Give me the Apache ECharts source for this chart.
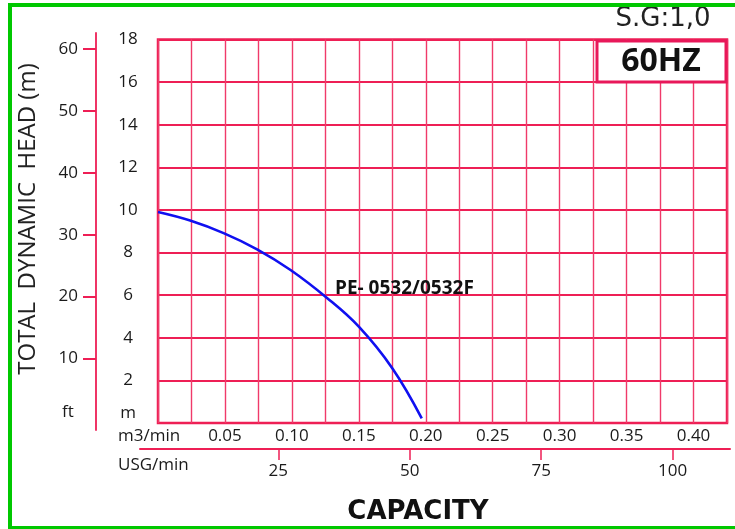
<!DOCTYPE html>
<html>
<head>
<meta charset="utf-8">
<script src="https://cdn.jsdelivr.net/npm/echarts@6/dist/echarts.min.js"></script>
<style>html,body{margin:0;padding:0;background:#fff;}#c{width:735px;height:529px;}</style>
</head>
<body>
<div id="c"></div>
<script>
// ---- data ----
var flowM3 = [0, 0.024, 0.049, 0.074, 0.099, 0.126, 0.150, 0.175, 0.197];
var headM  = [9.9, 9.5, 8.91, 8.15, 7.18, 5.88, 4.52, 2.57, 0.22];
var headTicksM = [2, 4, 6, 8, 10, 12, 14, 16, 18];
var headTicksFt = [10, 20, 30, 40, 50, 60];
var flowTicksM3 = [0.05, 0.10, 0.15, 0.20, 0.25, 0.30, 0.35, 0.40];
var flowTicksUsg = [25, 50, 75, 100];
var curveName = 'PE- 0532/0532F';

var red = '#ee1f55';
var txt = '#1a1a1a';
var font = 'Open Sans';

var chart = echarts.init(document.getElementById('c'), null, {renderer: 'canvas'});
var pts = flowM3.map(function (q, i) { return [q, headM[i]]; });

chart.setOption({
  backgroundColor: '#fff',
  animation: false,
  grid: [
    {left: 158, right: 8, top: 39.5, bottom: 106, show: true, borderColor: red, borderWidth: 2.5, backgroundColor: 'transparent'},
    {left: 96, width: 1, top: 33, height: 397, show: false},
    {left: 140, right: 5, top: 400, bottom: 80, show: false}
  ],
  xAxis: [
    {
      gridIndex: 0, type: 'value', min: 0, max: 0.425, interval: 0.025,
      axisLine: {show: false}, axisTick: {show: false},
      splitLine: {show: true, lineStyle: {color: '#f03a6a', width: 1.4}},
      axisLabel: {
        customValues: flowTicksM3, margin: 5,
        color: txt, fontFamily: font, fontSize: 17,
        formatter: function (v) { return v.toFixed(2); }
      }
    },
    {gridIndex: 1, type: 'value', show: false},
    {
      gridIndex: 2, type: 'value', min: -1.31, max: 110.9, position: 'bottom',
      axisLine: {show: true, onZero: false, lineStyle: {color: red, width: 2}},
      axisTick: {show: true, customValues: flowTicksUsg, length: 11, lineStyle: {color: red, width: 1.5}},
      splitLine: {show: false},
      axisLabel: {customValues: flowTicksUsg, margin: 14, color: txt, fontFamily: font, fontSize: 17}
    }
  ],
  yAxis: [
    {
      gridIndex: 0, type: 'value', min: 0, max: 18, interval: 2,
      axisLine: {show: false}, axisTick: {show: false},
      splitLine: {show: true, lineStyle: {color: red, width: 2}},
      axisLabel: {
        customValues: headTicksM, align: 'center', margin: 30,
        color: txt, fontFamily: font, fontSize: 17
      }
    },
    {
      gridIndex: 1, type: 'value', min: -1.53, max: 62.56, position: 'left',
      axisLine: {show: true, onZero: false, lineStyle: {color: red, width: 1.8}},
      axisTick: {show: true, customValues: headTicksFt, length: 13, lineStyle: {color: red, width: 2}},
      splitLine: {show: false},
      axisLabel: {customValues: headTicksFt, margin: 18, color: txt, fontFamily: font, fontSize: 17}
    },
    {gridIndex: 2, type: 'value', show: false}
  ],
  series: [{
    name: curveName, type: 'line', xAxisIndex: 0, yAxisIndex: 0,
    data: pts, smooth: 0.4, showSymbol: false, symbol: 'none',
    lineStyle: {color: '#1010f0', width: 2.6}, z: 5
  }],
  graphic: [
    {type: 'rect', shape: {x: 10, y: 5, width: 800, height: 523}, style: {fill: 'none', stroke: '#00c800', lineWidth: 4}, z: 100},
    {type: 'rect', shape: {x: 597, y: 41, width: 129, height: 41}, style: {fill: '#fff', stroke: '#e8185a', lineWidth: 3}, z: 50},
    {type: 'text', x: 661, y: 62, style: {text: '60HZ', fill: '#111', font: 'bold 32px "Open Sans"', align: 'center', verticalAlign: 'middle'}, z: 51},
    {type: 'text', x: 663, y: 19, style: {text: 'S.G:1,0', fill: '#222', font: '26px "DejaVu Sans"', align: 'center', verticalAlign: 'middle'}, z: 51},
    {type: 'text', x: 335, y: 289, style: {text: curveName, fill: '#111', font: 'bold 19px "Open Sans"', align: 'left', verticalAlign: 'middle'}, z: 51},
    {type: 'text', x: 28, y: 219, rotation: Math.PI / 2, style: {text: 'TOTAL  DYNAMIC  HEAD (m)', fill: '#222', font: '24px "Open Sans"', align: 'center', verticalAlign: 'middle'}, z: 51},
    {type: 'text', x: 418, y: 512, style: {text: 'CAPACITY', fill: '#111', font: 'bold 26px "DejaVu Sans"', align: 'center', verticalAlign: 'middle'}, z: 51},
    {type: 'text', x: 118, y: 436, style: {text: 'm3/min', fill: txt, font: '17px "Open Sans"', align: 'left', verticalAlign: 'middle'}, z: 51},
    {type: 'text', x: 118, y: 465, style: {text: 'USG/min', fill: txt, font: '17px "Open Sans"', align: 'left', verticalAlign: 'middle'}, z: 51},
    {type: 'text', x: 128, y: 413, style: {text: 'm', fill: txt, font: '17px "Open Sans"', align: 'center', verticalAlign: 'middle'}, z: 51},
    {type: 'text', x: 68, y: 412, style: {text: 'ft', fill: txt, font: '17px "Open Sans"', align: 'center', verticalAlign: 'middle'}, z: 51}
  ]
});
</script>
</body>
</html>
